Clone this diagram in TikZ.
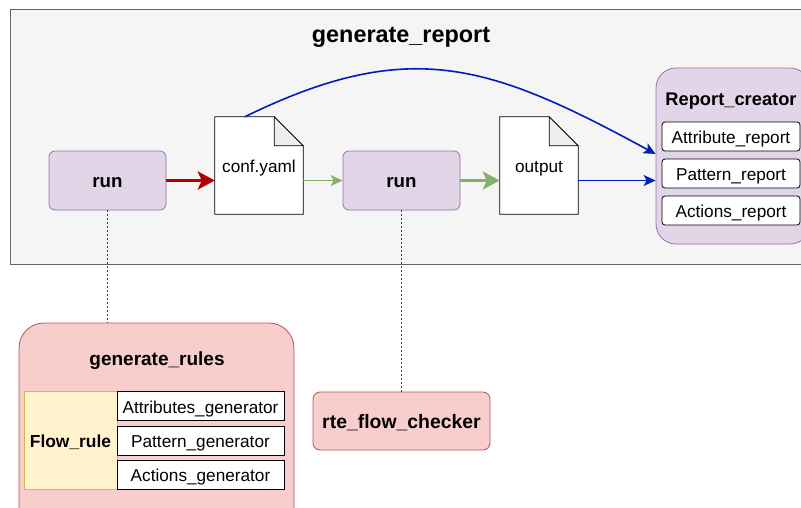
\documentclass[tikz,border=0pt]{standalone}
\usepackage{fontspec}
\setmainfont{Liberation Sans}
\usetikzlibrary{arrows.meta,calc}

\definecolor{panelfill}{HTML}{F5F5F5}
\definecolor{panelline}{HTML}{666666}
\definecolor{purplefill}{HTML}{E1D5E7}
\definecolor{purpleline}{HTML}{9673A6}
\definecolor{redfill}{HTML}{F8CECC}
\definecolor{redline}{HTML}{B85450}
\definecolor{yellowfill}{HTML}{FFF2CC}
\definecolor{yellowline}{HTML}{D6B656}
\definecolor{darkred}{HTML}{B20000}
\definecolor{flowgreen}{HTML}{82B366}
\definecolor{flowblue}{HTML}{001DBC}
\definecolor{foldgray}{HTML}{EEEEEE}

\tikzset{
  txt/.style={text height=16.5pt, text depth=2pt},
  procbox/.style={draw=purpleline, fill=purplefill, rounded corners=6pt, line width=0.8pt,
    inner sep=0pt, txt, font=\fontsize{18.7}{20}\selectfont\bfseries},
  rulebox/.style={draw=redline, fill=redfill, line width=0.8pt, inner sep=0pt, txt},
  itembox/.style={draw=black, fill=white, line width=0.8pt, inner sep=0pt, txt,
    font=\fontsize{17.2}{19}\selectfont},
  docnode/.style={inner sep=0pt, txt, font=\fontsize{17.2}{19}\selectfont},
  docline/.style={draw=black, line width=0.8pt},
  linkline/.style={draw=black!75, line width=0.8pt, dash pattern=on 2pt off 2pt},
  bigtip/.style={-{Stealth[length=17pt, width=18pt, inset=4pt]}},
  smalltip/.style={-{Stealth[length=12pt, width=11pt, inset=3pt]}},
}

\begin{document}
\begin{tikzpicture}[x=1pt, y=-1pt]
\useasboundingbox (0,0) rectangle (801,507);
\clip (0,0) rectangle (801,507);

% outer panel
\node[draw=panelline, fill=panelfill, line width=0.8pt, minimum width=820pt, minimum height=255pt,
      inner sep=0pt, anchor=north west] (panel) at (10,9) {};
\node[text height=21pt, text depth=2pt, font=\fontsize{23.4}{25}\selectfont\bfseries] (paneltitle) at (401,33) {generate\_report};

% processes
\node[procbox, minimum width=117pt, minimum height=59pt] (run1) at (107.5,180.5) {run};
\node[procbox, minimum width=117pt, minimum height=59pt] (run2) at (401.5,180.5) {run};

% documents
\node[docnode, minimum width=88pt, minimum height=97pt] (conf) at (259,165.5) {};
\node[docnode, minimum width=78pt, minimum height=97pt] (out) at (539,165.5) {};
\foreach \d in {conf,out}{
  \path[docline, fill=white] (\d.north west) -- ($(\d.north east)+(-29,0)$) -- ($(\d.north east)+(0,29)$)
     -- (\d.south east) -- (\d.south west) -- cycle;
  \path[docline, fill=foldgray] ($(\d.north east)+(-29,0)$) -- ($(\d.north east)+(-29,29)$)
     -- ($(\d.north east)+(0,29)$) -- cycle;
}
\node[docnode] (conftext) at (conf.center) {conf.yaml};
\node[docnode] (outtext) at (out.center) {output};

% report creator
\node[procbox, rounded corners=20pt, minimum width=154pt, minimum height=176pt] (report) at (733,156) {};
\node[txt, font=\fontsize{18.3}{20}\selectfont\bfseries] (reporttitle) at (731,98) {Report\_creator};
\node[itembox, rounded corners=3pt, minimum width=138pt, minimum height=29pt] (attrrep) at (731,136.5) {Attribute\_report};
\node[itembox, rounded corners=3pt, minimum width=138pt, minimum height=29pt] (patrep) at (731,173.5) {Pattern\_report};
\node[itembox, rounded corners=3pt, minimum width=138pt, minimum height=29pt] (actrep) at (731,210.5) {Actions\_report};

% rule generator
\node[rulebox, rounded corners=25pt, minimum width=275pt, minimum height=217pt] (genrules) at (156.5,431.5) {};
\node[txt, font=\fontsize{19}{21}\selectfont\bfseries] (genrulestitle) at (157,358) {generate\_rules};
\node[draw=yellowline, fill=yellowfill, line width=0.8pt, inner sep=0pt, minimum width=93pt, minimum height=98pt,
      txt, font=\fontsize{17.4}{19}\selectfont\bfseries] (flowrule) at (70.5,440) {Flow\_rule};
\node[itembox, minimum width=167pt, minimum height=29pt] (attrgen) at (200.5,406) {Attributes\_generator};
\node[itembox, minimum width=167pt, minimum height=29pt] (patgen) at (200.5,440.5) {Pattern\_generator};
\node[itembox, minimum width=167pt, minimum height=29pt] (actgen) at (200.5,474.5) {Actions\_generator};

% checker
\node[rulebox, rounded corners=7pt, minimum width=177pt, minimum height=58pt,
      font=\fontsize{19.4}{21}\selectfont\bfseries] (checker) at (401.5,421) {rte\_flow\_checker};

% links between calls and their modules
\draw[linkline] (run1.south) -- (genrules.north -| run1.south);
\draw[linkline] (run2.south) -- (checker.north);

% data flow
\draw[darkred, line width=3.8pt, bigtip] (run1.east) -- (conf.west |- run1.east);
\draw[flowgreen, line width=1.4pt, smalltip] (conf.east |- run2.west) -- (run2.west);
\draw[flowgreen, line width=3.8pt, bigtip] (run2.east) -- (out.west |- run2.east);
\draw[flowblue, line width=1.6pt, smalltip] (out.east |- run2.east) -- (report.west |- run2.east);
\draw[flowblue, line width=1.6pt, smalltip]
  ($(conf.north west)+(30,0)$) .. controls (410,36) and (490,64) .. ($(report.west)+(0,-2)$);
\end{tikzpicture}
\end{document}
